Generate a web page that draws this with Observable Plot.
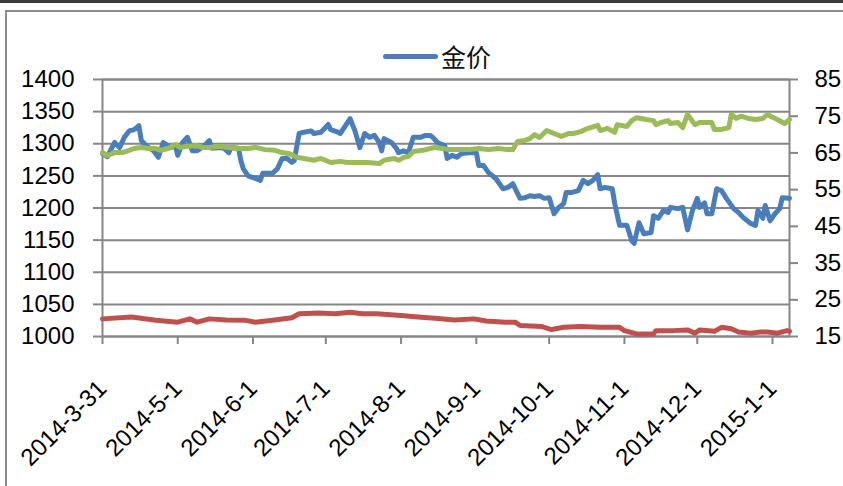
<!DOCTYPE html>
<html>
<head>
<meta charset="utf-8">
<script src="https://cdn.jsdelivr.net/npm/d3@7"></script>
<script src="https://cdn.jsdelivr.net/npm/@observablehq/plot@0.6"></script>
<style>
  html, body { margin: 0; padding: 0; background: #fff; }
  #wrap { position: relative; width: 843px; height: 486px; overflow: hidden; background: #fff; }
  #topbar { position: absolute; left: 0; top: 0; width: 843px; height: 3px; background: #3c3c3c; }
  #frameTop { position: absolute; left: 5px; top: 10px; width: 838px; height: 2px; background: #8c8c8c; }
  #frameLeft { position: absolute; left: 5px; top: 10px; width: 2px; height: 476px; background: #8c8c8c; }
  #legend { position: absolute; left: 383px; top: 40px; height: 32px; display: flex; align-items: center;
            font-family: "Noto Sans CJK SC", sans-serif; font-size: 25px; color: #111; }
  #legend .sw { width: 55px; height: 5px; border-radius: 3px; background: #4A7EBB; margin-right: 3px; }
  #chart { position: absolute; left: 0; top: 0; }
</style>
</head>
<body>
<div id="wrap">
  <div id="topbar"></div>
  <div id="frameTop"></div>
  <div id="frameLeft"></div>
  <div id="chart"></div>
  <div id="legend"><div class="sw"></div><span>金价</span></div>
</div>
<script>
// ---- data ----
const leftTicks = [1000, 1050, 1100, 1150, 1200, 1250, 1300, 1350, 1400];
const rightTicks = [15, 25, 35, 45, 55, 65, 75, 85];
const xTickDates = ["2014-03-31","2014-05-01","2014-06-01","2014-07-01","2014-08-01","2014-09-01","2014-10-01","2014-11-01","2014-12-01","2015-01-01"];
const xTickLabels = ["2014-3-31","2014-5-1","2014-6-1","2014-7-1","2014-8-1","2014-9-1","2014-10-1","2014-11-1","2014-12-1","2015-1-1"];

// 金价 (left axis)
const goldDates = ["2014-03-31","2014-04-02","2014-04-05","2014-04-07","2014-04-09","2014-04-11","2014-04-13","2014-04-15","2014-04-16","2014-04-18","2014-04-21","2014-04-23","2014-04-25","2014-04-28","2014-04-30","2014-05-01","2014-05-03","2014-05-05","2014-05-07","2014-05-09","2014-05-12","2014-05-14","2014-05-15","2014-05-18","2014-05-20","2014-05-22","2014-05-23","2014-05-26","2014-05-27","2014-05-28","2014-05-30","2014-06-02","2014-06-04","2014-06-05","2014-06-09","2014-06-11","2014-06-13","2014-06-15","2014-06-17","2014-06-18","2014-06-20","2014-06-22","2014-06-25","2014-06-26","2014-06-29","2014-07-02","2014-07-03","2014-07-06","2014-07-07","2014-07-11","2014-07-13","2014-07-15","2014-07-17","2014-07-19","2014-07-21","2014-07-23","2014-07-24","2014-07-25","2014-07-28","2014-07-30","2014-07-31","2014-08-02","2014-08-04","2014-08-06","2014-08-09","2014-08-11","2014-08-13","2014-08-14","2014-08-16","2014-08-19","2014-08-20","2014-08-22","2014-08-24","2014-08-26","2014-08-29","2014-09-01","2014-09-02","2014-09-04","2014-09-06","2014-09-09","2014-09-12","2014-09-14","2014-09-16","2014-09-19","2014-09-21","2014-09-23","2014-09-25","2014-09-27","2014-09-29","2014-10-01","2014-10-03","2014-10-05","2014-10-07","2014-10-08","2014-10-10","2014-10-13","2014-10-15","2014-10-17","2014-10-19","2014-10-21","2014-10-22","2014-10-24","2014-10-27","2014-10-28","2014-10-30","2014-11-02","2014-11-04","2014-11-05","2014-11-07","2014-11-09","2014-11-12","2014-11-13","2014-11-15","2014-11-17","2014-11-19","2014-11-20","2014-11-23","2014-11-25","2014-11-27","2014-11-29","2014-12-01","2014-12-02","2014-12-04","2014-12-05","2014-12-07","2014-12-09","2014-12-11","2014-12-13","2014-12-16","2014-12-18","2014-12-20","2014-12-23","2014-12-25","2014-12-26","2014-12-28","2014-12-29","2014-12-31","2015-01-02","2015-01-04","2015-01-05","2015-01-08"];
const goldValues = [1285,1280,1302,1294,1310,1320,1322,1328,1305,1297,1289,1279,1302,1294,1297,1282,1302,1310,1289,1289,1297,1305,1293,1294,1293,1286,1294,1293,1274,1261,1250,1246,1243,1254,1254,1261,1277,1277,1271,1274,1316,1318,1320,1316,1318,1330,1322,1318,1316,1339,1320,1294,1316,1310,1313,1302,1289,1308,1302,1293,1286,1289,1286,1310,1310,1313,1313,1310,1302,1297,1277,1282,1279,1285,1286,1286,1266,1266,1255,1246,1230,1232,1238,1215,1216,1219,1218,1219,1215,1216,1191,1201,1207,1224,1224,1227,1243,1238,1243,1252,1230,1232,1230,1207,1173,1173,1149,1145,1177,1160,1162,1188,1184,1196,1193,1201,1199,1201,1166,1196,1215,1201,1208,1191,1191,1230,1227,1215,1199,1193,1185,1176,1173,1196,1184,1204,1180,1191,1199,1216,1215];

// green series (right axis)
const greenDates = ["2014-03-31","2014-04-02","2014-04-05","2014-04-08","2014-04-11","2014-04-13","2014-04-16","2014-04-19","2014-04-22","2014-04-24","2014-04-27","2014-04-30","2014-05-02","2014-05-05","2014-05-09","2014-05-11","2014-05-14","2014-05-18","2014-05-22","2014-05-26","2014-05-30","2014-06-02","2014-06-06","2014-06-10","2014-06-13","2014-06-16","2014-06-19","2014-06-22","2014-06-26","2014-06-29","2014-07-03","2014-07-07","2014-07-10","2014-07-14","2014-07-18","2014-07-23","2014-07-25","2014-07-29","2014-07-31","2014-08-02","2014-08-04","2014-08-06","2014-08-10","2014-08-13","2014-08-15","2014-08-18","2014-08-21","2014-08-24","2014-08-29","2014-09-02","2014-09-06","2014-09-10","2014-09-14","2014-09-16","2014-09-18","2014-09-21","2014-09-23","2014-09-25","2014-09-27","2014-09-30","2014-10-03","2014-10-06","2014-10-09","2014-10-11","2014-10-14","2014-10-17","2014-10-21","2014-10-22","2014-10-25","2014-10-28","2014-10-29","2014-11-02","2014-11-04","2014-11-06","2014-11-10","2014-11-13","2014-11-14","2014-11-16","2014-11-19","2014-11-20","2014-11-23","2014-11-25","2014-11-27","2014-11-30","2014-12-02","2014-12-04","2014-12-07","2014-12-08","2014-12-11","2014-12-14","2014-12-15","2014-12-17","2014-12-19","2014-12-22","2014-12-25","2014-12-28","2014-12-30","2015-01-01","2015-01-03","2015-01-06","2015-01-08"];
const greenValues = [65.1,64.3,65.1,65.1,65.7,66.2,66.5,66.2,66.2,65.7,66.2,67.3,66.5,66.8,67.0,66.5,66.5,66.8,66.5,66.2,66.2,66.5,65.9,65.7,65.1,64.8,63.8,63.5,63.0,63.5,62.4,62.7,62.4,62.4,62.4,62.1,63.0,63.5,63.0,63.8,64.0,65.4,65.7,66.2,66.5,66.2,65.9,65.9,65.9,66.2,65.9,66.2,65.9,65.9,68.1,68.4,68.9,70.0,69.2,71.1,70.3,69.5,70.3,70.3,70.8,71.7,72.5,71.1,71.7,70.6,72.7,72.2,73.8,74.6,74.1,73.8,72.7,73.3,73.8,73.0,73.3,71.9,75.5,72.7,73.3,73.3,73.3,71.4,71.4,71.9,75.5,74.4,75.0,74.4,74.1,74.4,75.5,74.7,74.1,73.0,74.1];

// red series (right axis)
const redDates = ["2014-03-31","2014-04-12","2014-04-22","2014-05-01","2014-05-06","2014-05-09","2014-05-14","2014-05-21","2014-05-29","2014-06-02","2014-06-09","2014-06-17","2014-06-20","2014-06-28","2014-07-05","2014-07-11","2014-07-16","2014-07-22","2014-08-01","2014-08-08","2014-08-15","2014-08-23","2014-08-31","2014-09-05","2014-09-13","2014-09-17","2014-09-19","2014-09-28","2014-10-02","2014-10-07","2014-10-14","2014-10-22","2014-10-30","2014-11-01","2014-11-06","2014-11-13","2014-11-14","2014-11-21","2014-11-27","2014-11-30","2014-12-02","2014-12-08","2014-12-11","2014-12-15","2014-12-18","2014-12-23","2014-12-27","2014-12-30","2015-01-03","2015-01-07","2015-01-08"];
const redValues = [19.8,20.3,19.4,18.9,19.8,18.9,19.8,19.5,19.4,18.9,19.4,20.1,21.2,21.4,21.2,21.6,21.2,21.2,20.7,20.3,20.0,19.5,19.8,19.2,18.9,18.9,18.0,17.7,16.9,17.5,17.7,17.5,17.5,16.6,15.7,15.7,16.6,16.6,16.8,15.9,16.8,16.4,17.5,17.1,16.2,15.9,16.2,16.2,15.9,16.6,16.4];

// ---- build ----
const parse = d3.utcParse("%Y-%m-%d");
const leftMin = 1000, leftMax = 1400, rightMin = 15, rightMax = 85;
const toLeft = v => leftMin + (v - rightMin) * (leftMax - leftMin) / (rightMax - rightMin);
const toRight = v => rightMin + (v - leftMin) * (rightMax - rightMin) / (leftMax - leftMin);

const gold = goldDates.map((d, i) => ({date: parse(d), v: goldValues[i]}));
const green = greenDates.map((d, i) => ({date: parse(d), v: toLeft(greenValues[i])}));
const red = redDates.map((d, i) => ({date: parse(d), v: toLeft(redValues[i])}));
const xTicks = xTickDates.map(parse);
const xLabel = new Map(xTicks.map((d, i) => [+d, xTickLabels[i]]));

const font = '"Liberation Sans", Arial, sans-serif';
const grid = "#868686";

const chart = Plot.plot({
  width: 843,
  height: 486,
  marginTop: 79,
  marginBottom: 150,
  marginLeft: 102,
  marginRight: 54,
  style: {fontFamily: font, fontSize: "24px", color: "#000", background: "transparent", overflow: "visible"},
  x: {type: "utc", domain: [parse("2014-03-31"), parse("2015-01-08")]},
  y: {domain: [leftMin, leftMax]},
  marks: [
    Plot.ruleY(leftTicks, {stroke: grid, strokeWidth: 2}),
    Plot.frame({stroke: grid, strokeWidth: 2}),
    Plot.axisY(leftTicks, {anchor: "left", tickSize: 9, tickPadding: 19, stroke: grid, strokeWidth: 2,
      fill: "#000", label: null, tickFormat: d => String(d)}),
    Plot.axisY(rightTicks.map(toLeft), {anchor: "right", tickSize: 8, tickPadding: 17, stroke: grid, strokeWidth: 2,
      fill: "#000", label: null, tickFormat: d => String(Math.round(toRight(d)))}),
    Plot.axisX(xTicks, {anchor: "bottom", tickSize: 8, tickPadding: 40, tickRotate: -45, stroke: grid, strokeWidth: 2,
      fill: "#000", label: null, tickFormat: d => xLabel.get(+d)}),
    Plot.line(gold, {x: "date", y: "v", stroke: "#4A7EBB", strokeWidth: 5, strokeLinejoin: "round", strokeLinecap: "round"}),
    Plot.line(red, {x: "date", y: "v", stroke: "#C0504D", strokeWidth: 5, strokeLinejoin: "round", strokeLinecap: "round"}),
    Plot.line(green, {x: "date", y: "v", stroke: "#9BBB59", strokeWidth: 5, strokeLinejoin: "round", strokeLinecap: "round"})
  ]
});
document.getElementById("chart").appendChild(chart);
</script>
</body>
</html>
